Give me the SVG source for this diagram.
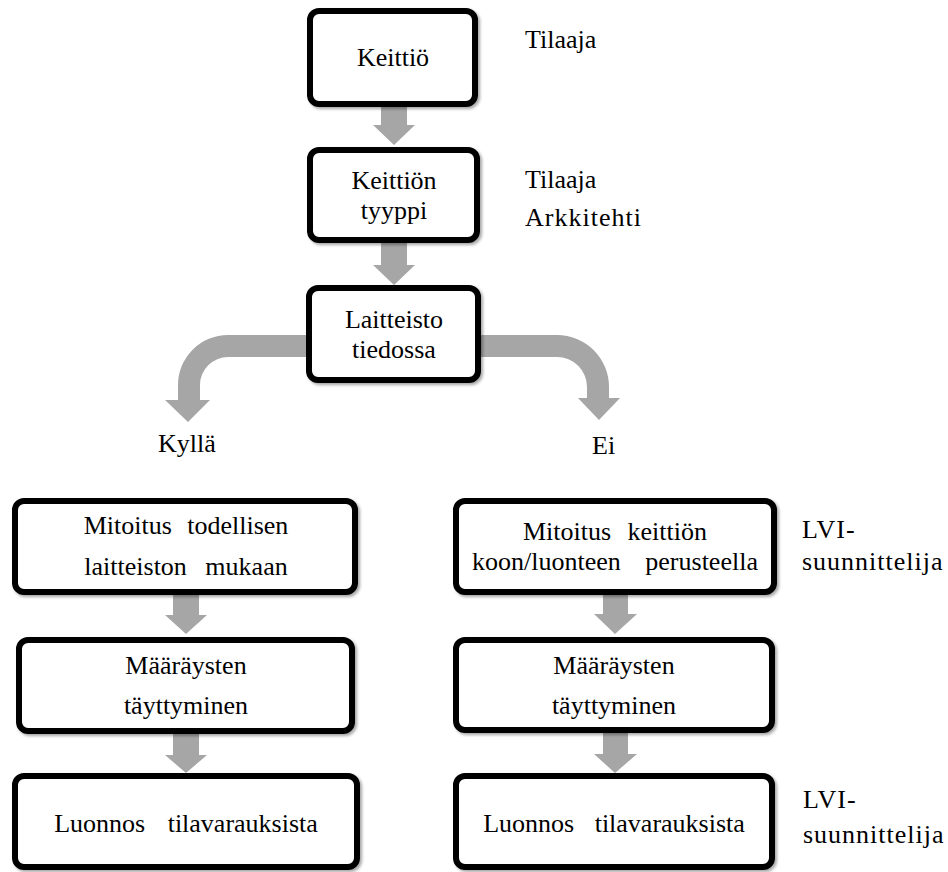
<svg xmlns="http://www.w3.org/2000/svg" width="948" height="872" viewBox="0 0 948 872">
<defs>
<filter id="sh" x="-10%" y="-10%" width="125%" height="130%">
<feDropShadow dx="2" dy="2" stdDeviation="1.5" flood-color="#000" flood-opacity="0.35"/>
</filter>
<style>
.box{fill:#fff;stroke:#000;stroke-width:6;filter:url(#sh)}
.arr{fill:#a6a6a6;stroke:none}
</style>
</defs>
<rect width="948" height="872" fill="#fff"/>
<g id="connectors">
<polygon class="arr" points="381,104 407,104 407,125 415,125 394,145 373,125 381,125"/>
<polygon class="arr" points="381,241 407,241 407,265 415,265 394,285 373,265 381,265"/>
<path class="arr" d="M308,335 L228,335 A50,50 0 0 0 178,385 L178,400 L165,400 L188,422 L210,400 L200,400 L200,385 A28,28 0 0 1 228,357 L308,357 Z"/>
<path class="arr" d="M479,335 L557,335 A52,52 0 0 1 609,387 L609,398 L620,398 L599,420 L578,398 L587,398 L587,387 A30,30 0 0 0 557,357 L479,357 Z"/>
<polygon class="arr" points="173,593 199,593 199,615 207,615 186,634 165,615 173,615"/>
<polygon class="arr" points="173,732 199,732 199,755 207,755 186,773 165,755 173,755"/>
<polygon class="arr" points="603,593 628,593 628,614 637,614 615,634 594,614 603,614"/>
<polygon class="arr" points="603,731 628,731 628,754 637,754 615,773 594,754 603,754"/>
</g>
<g id="n-keittio">
<rect class="box" x="310" y="11" width="165" height="93" rx="9"/>
<text x="393" y="66" font-family="Liberation Serif" font-size="26" text-anchor="middle">Keittiö</text>
</g>
<g id="lbl-tilaaja1"><text x="525" y="48" font-family="Liberation Serif" font-size="26">Tilaaja</text></g>
<g id="n-tyyppi">
<rect class="box" x="310" y="150" width="167" height="90" rx="9"/>
<text x="394" y="189" font-family="Liberation Serif" font-size="26" text-anchor="middle">Keittiön</text>
<text x="394" y="219" font-family="Liberation Serif" font-size="26" text-anchor="middle">tyyppi</text>
</g>
<g id="lbl-tilaaja2">
<text x="525" y="188" font-family="Liberation Serif" font-size="26">Tilaaja</text>
<text x="525" y="226" font-family="Liberation Serif" font-size="26" letter-spacing="1">Arkkitehti</text>
</g>
<g id="n-laitteisto">
<rect class="box" x="309" y="288" width="169" height="92" rx="9"/>
<text x="394" y="328" font-family="Liberation Serif" font-size="26" text-anchor="middle">Laitteisto</text>
<text x="394" y="358" font-family="Liberation Serif" font-size="26" text-anchor="middle">tiedossa</text>
</g>
<g id="lbl-kylla"><text x="158" y="452" font-family="Liberation Serif" font-size="26">Kyllä</text></g>
<g id="lbl-ei"><text x="592" y="454" font-family="Liberation Serif" font-size="26">Ei</text></g>
<g id="n-mitoitus-l">
<rect class="box" x="15" y="501" width="340" height="91" rx="9"/>
<text x="186" y="534" font-family="Liberation Serif" font-size="26" text-anchor="middle" word-spacing="9">Mitoitus todellisen</text>
<text x="186" y="575" font-family="Liberation Serif" font-size="26" text-anchor="middle" word-spacing="12">laitteiston mukaan</text>
</g>
<g id="n-mitoitus-r">
<rect class="box" x="456" y="501" width="318" height="91" rx="9"/>
<text x="615" y="540" font-family="Liberation Serif" font-size="26" text-anchor="middle" word-spacing="10">Mitoitus keittiön</text>
<text x="615" y="570" font-family="Liberation Serif" font-size="26" text-anchor="middle" word-spacing="18">koon/luonteen perusteella</text>
</g>
<g id="lbl-lvi1">
<text x="802" y="538" font-family="Liberation Serif" font-size="26" letter-spacing="1">LVI-</text>
<text x="802" y="570" font-family="Liberation Serif" font-size="26" letter-spacing="1">suunnittelija</text>
</g>
<g id="n-maarays-l">
<rect class="box" x="19" y="640" width="333" height="91" rx="9"/>
<text x="186" y="674" font-family="Liberation Serif" font-size="26" text-anchor="middle">Määräysten</text>
<text x="186" y="714" font-family="Liberation Serif" font-size="26" text-anchor="middle">täyttyminen</text>
</g>
<g id="n-maarays-r">
<rect class="box" x="456" y="640" width="316" height="90" rx="9"/>
<text x="614" y="674" font-family="Liberation Serif" font-size="26" text-anchor="middle">Määräysten</text>
<text x="614" y="714" font-family="Liberation Serif" font-size="26" text-anchor="middle">täyttyminen</text>
</g>
<g id="n-luonnos-l">
<rect class="box" x="15" y="776" width="342" height="91" rx="9"/>
<text x="186" y="832" font-family="Liberation Serif" font-size="26" text-anchor="middle" word-spacing="16">Luonnos tilavarauksista</text>
</g>
<g id="n-luonnos-r">
<rect class="box" x="456" y="776" width="316" height="91" rx="9"/>
<text x="614" y="832" font-family="Liberation Serif" font-size="26" text-anchor="middle" word-spacing="14">Luonnos tilavarauksista</text>
</g>
<g id="lbl-lvi2">
<text x="803" y="808" font-family="Liberation Serif" font-size="26" letter-spacing="1">LVI-</text>
<text x="803" y="843" font-family="Liberation Serif" font-size="26" letter-spacing="1">suunnittelija</text>
</g>
</svg>
